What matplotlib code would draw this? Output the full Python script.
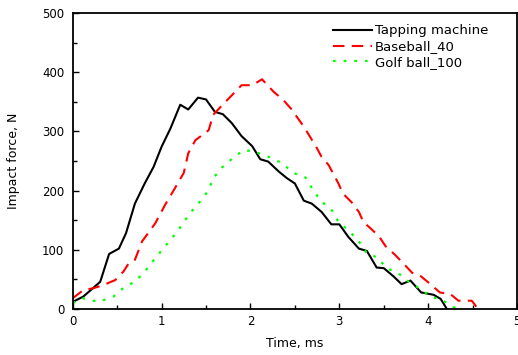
## Impact force vs time for three impact sources
import matplotlib.pyplot as plt
from matplotlib.ticker import MultipleLocator

plt.rcParams['font.family'] = 'DejaVu Sans'

# Tapping machine
t_tap = [0.0, 0.12, 0.31, 0.41, 0.52, 0.60, 0.70, 0.81, 0.91, 1.00, 1.10, 1.21,
         1.30, 1.41, 1.50, 1.60, 1.69, 1.79, 1.90, 2.02, 2.11, 2.20, 2.32, 2.41,
         2.50, 2.60, 2.69, 2.80, 2.91, 3.00, 3.10, 3.22, 3.31, 3.42, 3.50, 3.61,
         3.70, 3.80, 3.92, 4.06, 4.14, 4.21]
f_tap = [12, 21, 46, 93, 102, 128, 178, 212, 240, 274, 305, 345,
         337, 357, 354, 333, 329, 314, 292, 275, 253, 249, 232, 221,
         212, 183, 178, 164, 143, 143, 122, 102, 98, 70, 69, 55,
         42, 48, 28, 24, 17, 0]

# Baseball_40
t_base = [0.0, 0.12, 0.23, 0.34, 0.48, 0.57, 0.63, 0.70, 0.78, 0.93, 1.04, 1.15,
          1.25, 1.30, 1.38, 1.53, 1.58, 1.70, 1.81, 1.90, 2.02, 2.13, 2.26, 2.37,
          2.47, 2.52, 2.60, 2.67, 2.75, 2.80, 2.88, 2.94, 2.99, 3.04, 3.14, 3.22,
          3.27, 3.36, 3.45, 3.52, 3.63, 3.72, 3.82, 3.92, 4.04, 4.13, 4.25, 4.34,
          4.49, 4.56]
f_base = [18, 32, 35, 40, 49, 63, 77, 83, 114, 145, 176, 204,
          230, 263, 285, 302, 328, 347, 364, 378, 378, 388, 367, 353,
          336, 325, 308, 291, 271, 257, 243, 226, 212, 195, 180, 164,
          147, 135, 122, 106, 91, 77, 61, 55, 40, 28, 25, 14,
          14, 0]

# Golf ball_100
t_golf = [0.0, 0.12, 0.29, 0.46, 0.59, 0.70, 0.81, 0.93, 1.04, 1.13, 1.23, 1.32,
          1.43, 1.53, 1.58, 1.68, 1.81, 1.93, 2.08, 2.22, 2.36, 2.48, 2.62, 2.70,
          2.79, 2.92, 2.99, 3.11, 3.23, 3.31, 3.43, 3.53, 3.66, 3.78, 3.92, 4.03,
          4.17, 4.32]
f_golf = [10, 18, 12, 21, 38, 46, 63, 86, 106, 122, 142, 162,
          181, 201, 221, 239, 256, 269, 264, 256, 246, 230, 222, 202,
          183, 166, 147, 132, 112, 94, 87, 69, 61, 46, 33, 21,
          14, 0]

fig = plt.figure(figsize=(5.18, 3.55), dpi=100)
ax = fig.add_axes([0.1403, 0.1296, 0.858, 0.8338])

ax.plot(t_tap, f_tap, color='black', lw=1.5, label='Tapping machine')
ax.plot(t_base, f_base, color='#ff0000', lw=1.5, dashes=(5.5, 3.5), label='Baseball_40')
ax.plot(t_golf, f_golf, color='#00ff00', lw=1.6, dashes=(1.2, 3.6), label='Golf ball_100')

ax.set_xlim(0, 5)
ax.set_ylim(0, 500)
ax.xaxis.set_major_locator(MultipleLocator(1))
ax.xaxis.set_minor_locator(MultipleLocator(0.5))
ax.yaxis.set_major_locator(MultipleLocator(100))
ax.yaxis.set_minor_locator(MultipleLocator(50))
ax.tick_params(which='both', direction='in', labelsize=8.5, width=1.0)
ax.tick_params(which='major', length=4.5)
ax.tick_params(which='minor', length=3)
ax.tick_params(axis='y', pad=6)
ax.tick_params(axis='x', pad=4)
for s in ax.spines.values():
    s.set_linewidth(1.3)

ax.set_xlabel('Time, ms', fontsize=9, labelpad=7)
ax.set_ylabel('Impact force, N', fontsize=9, labelpad=16)

ax.legend(loc='upper left', frameon=False, fontsize=9.5, handlelength=2.95,
          handletextpad=0.25, labelspacing=0.22, borderaxespad=0, borderpad=0,
          bbox_to_anchor=(0.585, 0.962))

fig.savefig('out.png', dpi=100)
